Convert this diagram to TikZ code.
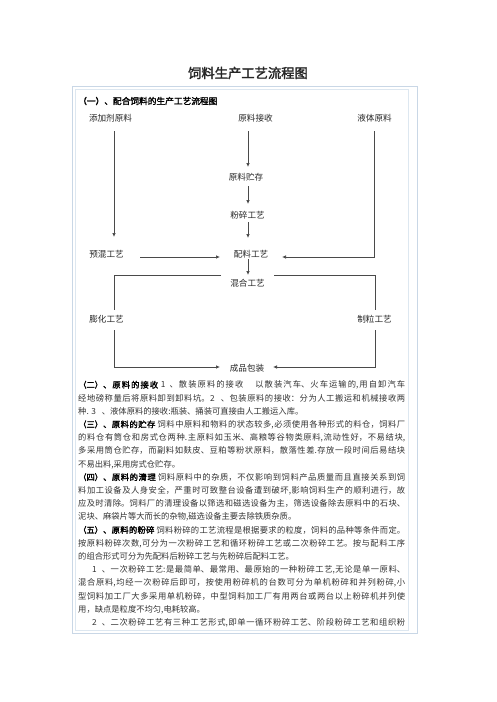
\documentclass[tikz,border=0pt]{standalone}
\usepackage{fontspec}
\setmainfont{Noto Sans CJK SC}
\newfontfamily\cjkbf{Noto Sans CJK SC}[FakeBold=2]
\usetikzlibrary{arrows.meta}
\XeTeXlinebreaklocale "zh"
\XeTeXlinebreakskip=0pt plus 1pt minus 0.3pt
\definecolor{frameout}{HTML}{C9D7E6}
\definecolor{framein}{HTML}{DDE7F0}
\definecolor{flowline}{HTML}{4A4A4A}

\begin{document}
\begin{tikzpicture}
          [x=1pt,y=-1pt,
          lbl/.style={inner sep=0pt, text=black!85, font=\fontsize{8.6}{10}\selectfont},
          ln/.style={draw=flowline, line width=0.7pt},
          arr/.style={ln, -{Latex[length=4pt,width=3.5pt]}},
          body/.style={anchor=north west, inner sep=0pt, text width=327pt, align=justify, text=black!80,
            font=\fontsize{8.3}{13.2}\selectfont}]
        \fill[white] (0,0) rectangle (496,702);
        \useasboundingbox (0,0) rectangle (496,702);
        \draw[frameout, line width=0.8pt] (72,86) rectangle (417,633);
        \draw[framein, line width=0.8pt] (75,89) rectangle (408,630);

          \node[font=\cjkbf\fontsize{13.3}{15}\selectfont, text=black!85] (title) at (248,73) {饲料生产工艺流程图};
          \node[anchor=west, inner sep=0pt, font=\cjkbf\fontsize{8.7}{10}\selectfont] (head) at (78,101) {（一）、配合饲料的生产工艺流程图};

          \node[lbl] (add) at (110.5,118) {添加剂原料};
          \node[lbl] (recv) at (255.5,118) {原料接收};
          \node[lbl] (liquid) at (374.5,118) {液体原料};
          \node[lbl] (store) at (246,177) {原料贮存};
          \node[lbl] (crush) at (247.5,215) {粉碎工艺};
          \node[lbl] (premix) at (106.5,254) {预混工艺};
          \node[lbl] (batch) at (251,254) {配料工艺};
          \node[lbl] (blend) at (247.5,283) {混合工艺};
          \node[lbl] (expand) at (106.5,319) {膨化工艺};
          \node[lbl] (pellet) at (374.5,319) {制粒工艺};
          \node[lbl] (pack) at (247,368) {成品包装};
          \coordinate (trunk) at (248,0);

          \draw[arr, shorten <=13pt, shorten >=17pt] ([xshift=3.5pt]add.center) -- ([xshift=7.5pt]premix.center);
          \draw[arr, shorten <=13pt, shorten >=10pt] (recv.center -| trunk) -- (store.center -| trunk);
          \draw[arr, shorten <=9pt, shorten >=11pt] (store.center -| trunk) -- (crush.center -| trunk);
          \draw[arr, shorten <=7pt, shorten >=16pt] (crush.center -| trunk) -- (batch.center -| trunk);
          \draw[arr, shorten <=5pt, shorten >=8pt] (batch.center -| trunk) -- (blend.center -| trunk);
          \draw[arr, shorten <=33.5pt, shorten >=31pt] ([yshift=-3pt]premix.center) -- ([yshift=-3pt]batch.center);
          \draw[arr, shorten <=13pt] ([xshift=-0.5pt]liquid.center) |- ([xshift=31pt,yshift=-3pt]batch.center);
          \draw[ln] ([xshift=-26.5pt,yshift=8pt]blend.center) -| ([xshift=7.5pt,yshift=9pt]expand.center);
          \draw[ln] ([xshift=26.5pt,yshift=8pt]blend.center) -| ([xshift=0.5pt,yshift=9pt]pellet.center);
          \draw[arr, shorten <=11pt] ([xshift=7.5pt]expand.center) |- ([xshift=-27pt,yshift=1pt]pack.center);
          \draw[arr, shorten <=11pt] ([xshift=0.5pt]pellet.center) |- ([xshift=26pt,yshift=1pt]pack.center);

          \node[body] (notes) at (78,377.7) {\parindent=0pt\rule{0pt}{10pt}%
{\cjkbf\color{black}（二）、原料的接收} 1\hspace{4pt}、散装原料的接收\hspace{12pt}以散装汽车、火车运输的,用自卸汽车\linebreak
经地磅称量后将原料卸到卸料坑。2\hspace{6pt}、包装原料的接收：分为人工搬运和机械接收两\linebreak
种. 3\hspace{6pt}、液体原料的接收:瓶装、捅装可直接由人工搬运入库。\par
{\cjkbf\color{black}（三）、原料的贮存} 饲料中原料和物料的状态较多,必须使用各种形式的料仓，饲料厂\linebreak
的料仓有筒仓和房式仓两种.主原料如玉米、高粮等谷物类原料,流动性好，不易结块,\linebreak
多采用筒仓贮存，而副料如麸皮、豆粕等粉状原料，散落性差.存放一段时间后易结块\linebreak
不易出料,采用房式仓贮存。\par
{\cjkbf\color{black}（四）、原料的清理} 饲料原料中的杂质，不仅影响到饲料产品质量而且直接关系到饲\linebreak
料加工设备及人身安全，严重时可致整台设备遭到破坏,影响饲料生产的顺利进行，故\linebreak
应及时清除。饲料厂的清理设备以筛选和磁选设备为主，筛选设备除去原料中的石块、\linebreak
泥块、麻袋片等大而长的杂物,磁选设备主要去除铁质杂质。\par
{\cjkbf\color{black}（五）、原料的粉碎} 饲料粉碎的工艺流程是根据要求的粒度，饲料的品种等条件而定。\linebreak
按原料粉碎次数,可分为一次粉碎工艺和循环粉碎工艺或二次粉碎工艺。按与配料工序\linebreak
的组合形式可分为先配料后粉碎工艺与先粉碎后配料工艺。\par
\hspace*{14pt}1\hspace{5pt}、一次粉碎工艺:是最简单、最常用、最原始的一种粉碎工艺,无论是单一原料、\linebreak
混合原料,均经一次粉碎后即可，按使用粉碎机的台数可分为单机粉碎和并列粉碎,小\linebreak
型饲料加工厂大多采用单机粉碎，中型饲料加工厂有用两台或两台以上粉碎机并列使\linebreak
用，缺点是粒度不均匀,电耗较高。\par
{\parfillskip=0pt \hspace*{14pt}2\hspace{5pt}、二次粉碎工艺有三种工艺形式,即单一循环粉碎工艺、阶段粉碎工艺和组织粉\par}};
        \end{tikzpicture}
\end{document}
